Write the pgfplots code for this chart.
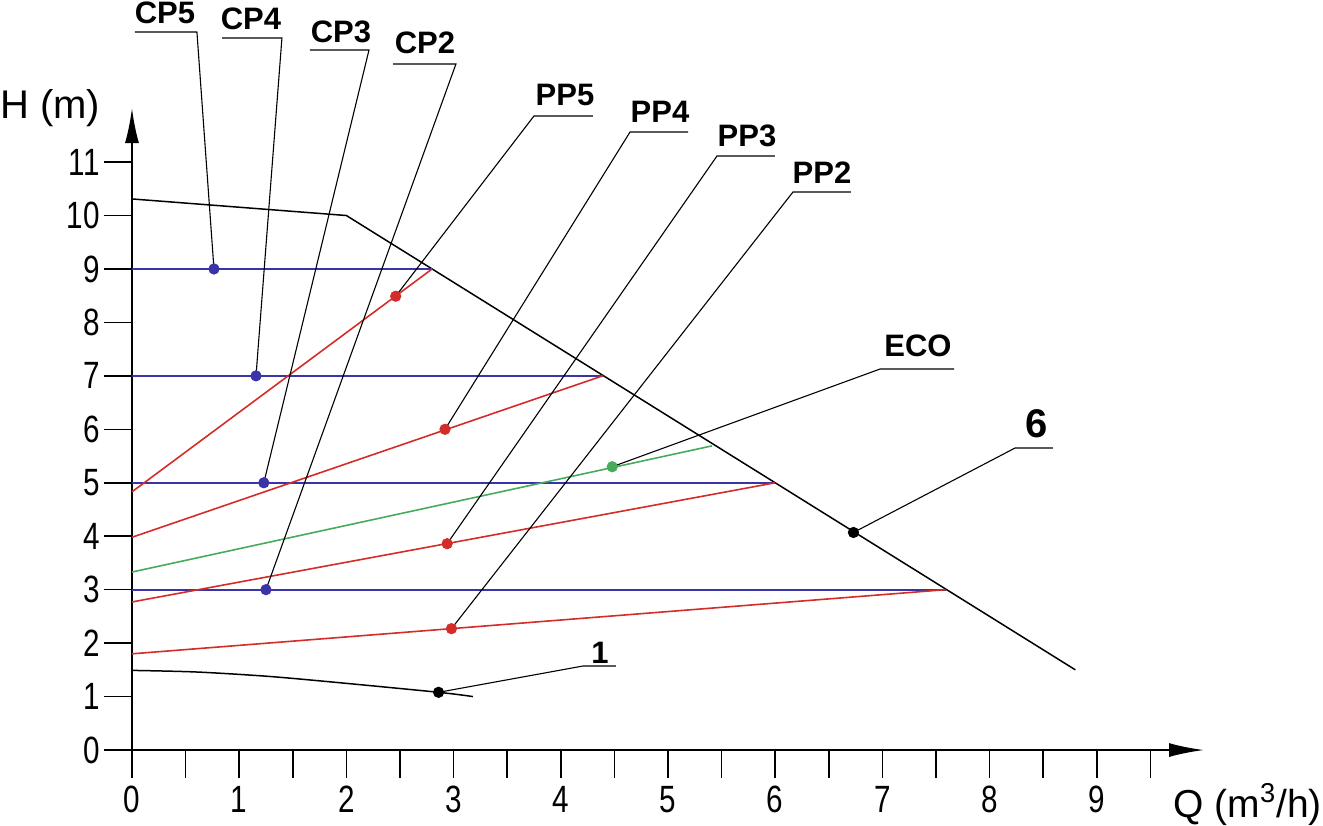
\documentclass[border=0pt]{standalone}
\usepackage{fontspec}
\setmainfont{Liberation Sans}
\newfontfamily\tickfont[FakeStretch=0.78]{Liberation Sans}
\usepackage{pgfplots}
\pgfplotsset{compat=1.18}
\usetikzlibrary{arrows.meta}
\definecolor{cblue}{RGB}{58,52,168}
\definecolor{cred}{RGB}{212,44,40}
\definecolor{cgreen}{RGB}{70,172,92}
\newcommand{\labfont}{\fontsize{15.5}{15.5}\selectfont\bfseries}
\begin{document}
\begin{tikzpicture}
\begin{axis}[
  x=53.6pt, y=26.725pt,
  xmin=-0.252, xmax=10.0, ymin=-0.524, ymax=12.01,
  axis lines=middle,
  hide obscured x ticks=false, hide obscured y ticks=false,
  axis line style={line width=1pt, -{Latex[length=17.5pt,width=7pt]}},
  xtick={0,...,9}, minor xtick={0.5,1.5,...,9.5},
  ytick={0,...,11},
  tick align=outside,
  major tick length=14pt, minor tick length=14pt,
  tick style={line width=0.75pt, black},
  /pgf/number format/assume math mode=true,
  xticklabel style={font=\tickfont\fontsize{19}{19}\selectfont, inner sep=0pt, anchor=north, yshift=-4pt},
  yticklabel style={font=\tickfont\fontsize{19}{19}\selectfont, inner sep=0pt, anchor=east, xshift=-2pt},
  clip=false,
]
% pump curves
\addplot[black, line width=0.75pt] coordinates {(0,10.31)(2,10.0)(8.8,1.5)};
\addplot[black, line width=0.75pt, smooth] coordinates {(0,1.49)(0.6,1.46)(1.26,1.38)(1.88,1.27)(2.86,1.08)(3.18,1.0)};
% constant pressure
\addplot[cblue, line width=0.9pt] coordinates {(0,9)(2.8,9)};
\addplot[cblue, line width=0.9pt] coordinates {(0,7)(4.39,7)};
\addplot[cblue, line width=0.9pt] coordinates {(0,5)(6.0,5)};
\addplot[cblue, line width=0.9pt] coordinates {(0,3)(7.59,3)};
% proportional pressure
\addplot[cred, line width=0.8pt] coordinates {(0,4.83)(2.8,9)};
\addplot[cred, line width=0.8pt] coordinates {(0,3.98)(4.39,7)};
\addplot[cred, line width=0.8pt] coordinates {(0,2.77)(6.0,5)};
\addplot[cred, line width=0.8pt] coordinates {(0,1.80)(7.59,3)};
% eco
\addplot[cgreen, line width=0.8pt] coordinates {(0,3.33)(5.41,5.69)};
% leaders
\draw[line width=0.55pt] (axis cs:0.028,13.433) -- (axis cs:0.606,13.433) -- (axis cs:0.765,9);
\draw[line width=0.55pt] (axis cs:0.840,13.321) -- (axis cs:1.399,13.321) -- (axis cs:1.157,7);
\draw[line width=0.55pt] (axis cs:1.660,13.096) -- (axis cs:2.211,13.096) -- (axis cs:1.23,5);
\draw[line width=0.55pt] (axis cs:2.435,12.834) -- (axis cs:3.022,12.834) -- (axis cs:1.25,3);
\draw[line width=0.55pt] (axis cs:4.300,11.862) -- (axis cs:3.750,11.862) -- (axis cs:2.46,8.49);
\draw[line width=0.55pt] (axis cs:5.187,11.562) -- (axis cs:4.646,11.562) -- (axis cs:2.92,6.0);
\draw[line width=0.55pt] (axis cs:5.998,11.113) -- (axis cs:5.457,11.113) -- (axis cs:2.94,3.86);
\draw[line width=0.55pt] (axis cs:6.707,10.440) -- (axis cs:6.166,10.440) -- (axis cs:2.98,2.27);
\draw[line width=0.55pt] (axis cs:7.668,7.128) -- (axis cs:6.978,7.128) -- (axis cs:4.48,5.30);
\draw[line width=0.55pt] (axis cs:8.591,5.650) -- (axis cs:8.237,5.650) -- (axis cs:6.73,4.07);
\draw[line width=0.55pt] (axis cs:4.515,1.572) -- (axis cs:4.207,1.572) -- (axis cs:2.86,1.08);
% points
\addplot[only marks, mark=*, mark size=2.6pt, cblue] coordinates {(0.765,9)(1.157,7)(1.23,5)(1.25,3)};
\addplot[only marks, mark=*, mark size=2.6pt, cred] coordinates {(2.46,8.49)(2.92,6.0)(2.94,3.86)(2.98,2.27)};
\addplot[only marks, mark=*, mark size=2.6pt, cgreen] coordinates {(4.48,5.30)};
\addplot[only marks, mark=*, mark size=2.6pt, black] coordinates {(6.73,4.07)(2.86,1.08)};
% labels
\node[anchor=base, font=\labfont, inner sep=0pt] at (axis cs:0.308,13.583) {CP5};
\node[anchor=base, font=\labfont, inner sep=0pt] at (axis cs:1.110,13.471) {CP4};
\node[anchor=base, font=\labfont, inner sep=0pt] at (axis cs:1.950,13.246) {CP3};
\node[anchor=base, font=\labfont, inner sep=0pt] at (axis cs:2.733,13.022) {CP2};
\node[anchor=base, font=\labfont, inner sep=0pt] at (axis cs:4.039,12.049) {PP5};
\node[anchor=base, font=\labfont, inner sep=0pt] at (axis cs:4.925,11.749) {PP4};
\node[anchor=base, font=\labfont, inner sep=0pt] at (axis cs:5.737,11.282) {PP3};
\node[anchor=base, font=\labfont, inner sep=0pt] at (axis cs:6.437,10.608) {PP2};
\node[anchor=base, font=\labfont, inner sep=0pt] at (axis cs:7.332,7.371) {ECO};
\node[anchor=base, font=\fontsize{20}{20}\selectfont\bfseries, inner sep=0pt] at (axis cs:8.442,5.856) {6};
\node[anchor=base, font=\labfont, inner sep=0pt] at (axis cs:4.366,1.628) {1};
\node[anchor=base west, font=\fontsize{20}{20}\selectfont, inner sep=0pt] at (axis cs:-1.231,11.824) {H (m)};
\node[anchor=base west, font=\fontsize{19.5}{19.5}\selectfont, inner sep=0pt] at (axis cs:9.711,-1.254) {Q (m\textsuperscript{3}/h)};
\coordinate (bl) at (axis cs:-1.231,-1.403);
\coordinate (tr) at (axis cs:11.110,14.032);
\end{axis}
\pgfresetboundingbox
\useasboundingbox (bl) rectangle (tr);
\end{tikzpicture}
\end{document}
